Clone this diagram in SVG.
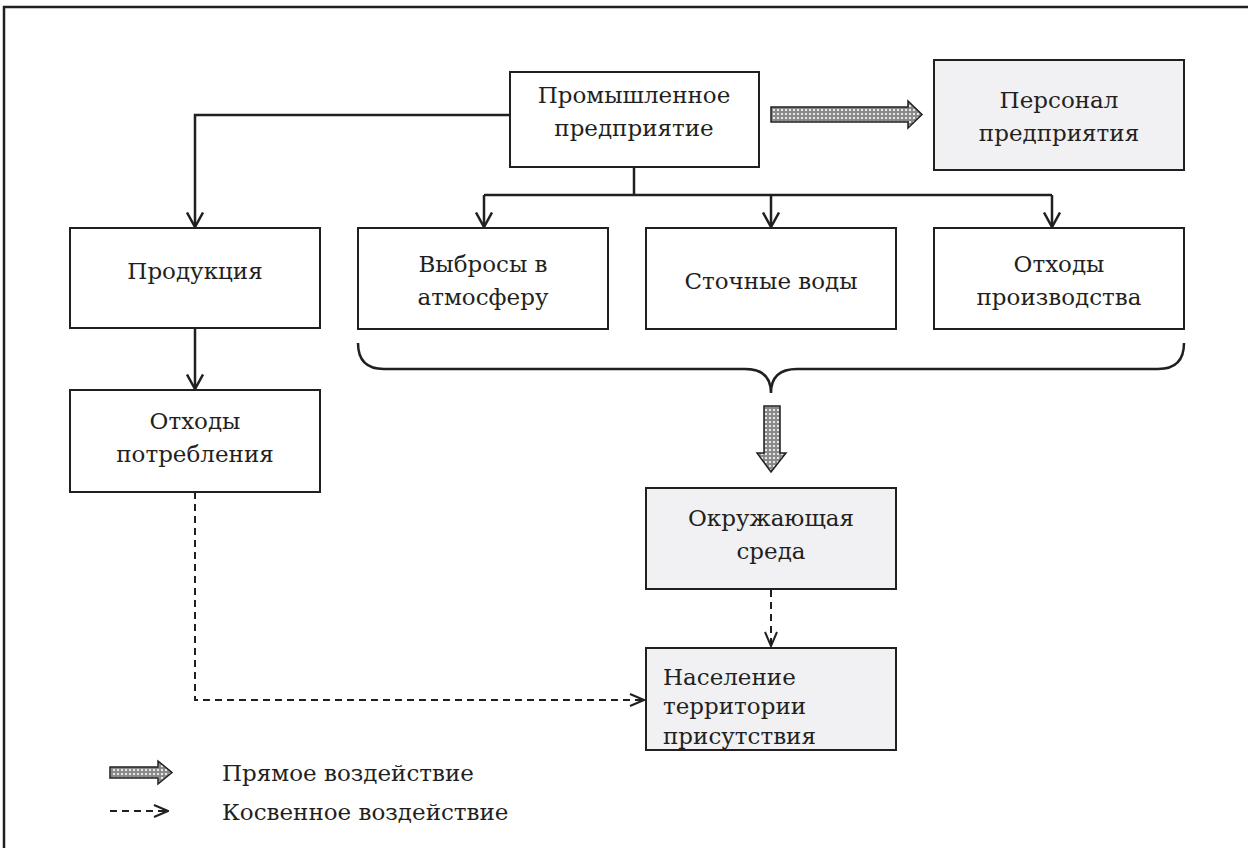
<svg xmlns="http://www.w3.org/2000/svg" width="1248" height="848" viewBox="0 0 1248 848">
<style>
.box{fill:#fff;stroke:#231f20;stroke-width:2}
.gbox{fill:#f1f1f3;stroke:#231f20;stroke-width:2}
.t{font-family:"DejaVu Serif",serif;font-size:23px;fill:#231f20;text-anchor:middle}
.tl{font-family:"DejaVu Serif",serif;font-size:23px;fill:#231f20}
.ln{fill:none;stroke:#231f20;stroke-width:2.5}
.dash{fill:none;stroke:#231f20;stroke-width:2;stroke-dasharray:7 5}
.blk{fill:url(#chk);stroke:#231f20;stroke-width:1.5}
</style>
<defs>
<pattern id="chk" width="4" height="4" patternUnits="userSpaceOnUse">
<rect width="4" height="4" fill="#8a8a8a"/>
<circle cx="2" cy="2" r="1.1" fill="#fff"/>
</pattern>
<marker id="v" viewBox="0 0 17 18" markerWidth="17" markerHeight="18" refX="15.5" refY="9" orient="auto" markerUnits="userSpaceOnUse">
<path d="M1,1 L15.5,9 L1,17" fill="none" stroke="#231f20" stroke-width="2.5"/>
</marker>
<marker id="vd" viewBox="0 0 16 14" markerWidth="16" markerHeight="14" refX="15" refY="7" orient="auto" markerUnits="userSpaceOnUse">
<path d="M1,1 L15,7 L1,13" fill="none" stroke="#231f20" stroke-width="2"/>
</marker>
</defs>
<rect width="1248" height="848" fill="#fff"/>
<path d="M4,848 V7 H1248" fill="none" stroke="#231f20" stroke-width="2.5"/>

<g id="connectors">
<path class="ln" d="M634,167 V195"/>
<path class="ln" d="M484,195 H1052"/>
<path class="ln" d="M484,195 V227" marker-end="url(#v)"/>
<path class="ln" d="M771,195 V227" marker-end="url(#v)"/>
<path class="ln" d="M1052,195 V227" marker-end="url(#v)"/>
<path class="ln" d="M510,115 H195 V227" marker-end="url(#v)"/>
<path class="ln" d="M195,328 V389" marker-end="url(#v)"/>
<path class="dash" d="M195,492 V700 H644" marker-end="url(#vd)"/>
<path class="dash" d="M771,590 V646" marker-end="url(#vd)"/>
<path class="ln" stroke-width="2" d="M358,343 Q358,369 384,369 L745,369 Q771,369 771,393 Q771,369 797,369 L1158,369 Q1184,369 1184,343"/>
<path class="blk" d="M771,107 H908 V101 L922,114.5 L908,128 V122 H771 Z"/>
<path class="blk" d="M764,406 H780 V453 H786 L771,472 L757,453 H764 Z"/>
</g>

<g id="n-enterprise"><rect class="box" x="510" y="72" width="249" height="95"/>
<text class="t" x="634" y="103">Промышленное</text><text class="t" x="634" y="136">предприятие</text></g>
<g id="n-personnel"><rect class="gbox" x="934" y="60" width="250" height="110"/>
<text class="t" x="1059" y="108">Персонал</text><text class="t" x="1059" y="141">предприятия</text></g>
<g id="n-products"><rect class="box" x="70" y="228" width="250" height="100"/>
<text class="t" x="195" y="279">Продукция</text></g>
<g id="n-emissions"><rect class="box" x="358" y="228" width="250" height="101"/>
<text class="t" x="483" y="272">Выбросы в</text><text class="t" x="483" y="305">атмосферу</text></g>
<g id="n-waste-water"><rect class="box" x="646" y="228" width="250" height="101"/>
<text class="t" x="771" y="289">Сточные воды</text></g>
<g id="n-prod-waste"><rect class="box" x="934" y="228" width="250" height="101"/>
<text class="t" x="1059" y="272">Отходы</text><text class="t" x="1059" y="305">производства</text></g>
<g id="n-cons-waste"><rect class="box" x="70" y="390" width="250" height="102"/>
<text class="t" x="195" y="429">Отходы</text><text class="t" x="195" y="462">потребления</text></g>
<g id="n-environment"><rect class="gbox" x="646" y="488" width="250" height="101"/>
<text class="t" x="771" y="526">Окружающая</text><text class="t" x="771" y="559">среда</text></g>
<g id="n-population"><rect class="gbox" x="646" y="648" width="250" height="102"/>
<text class="tl" x="663" y="685">Население</text><text class="tl" x="663" y="714">территории</text><text class="tl" x="663" y="744">присутствия</text></g>

<g id="legend">
<path class="blk" d="M110,767 H158 V761 L172,772.5 L158,784 V778 H110 Z"/>
<path class="dash" d="M110,811 H168" marker-end="url(#vd)"/>
<text class="tl" x="222" y="781">Прямое воздействие</text>
<text class="tl" x="222" y="820">Косвенное воздействие</text>
</g>
</svg>
